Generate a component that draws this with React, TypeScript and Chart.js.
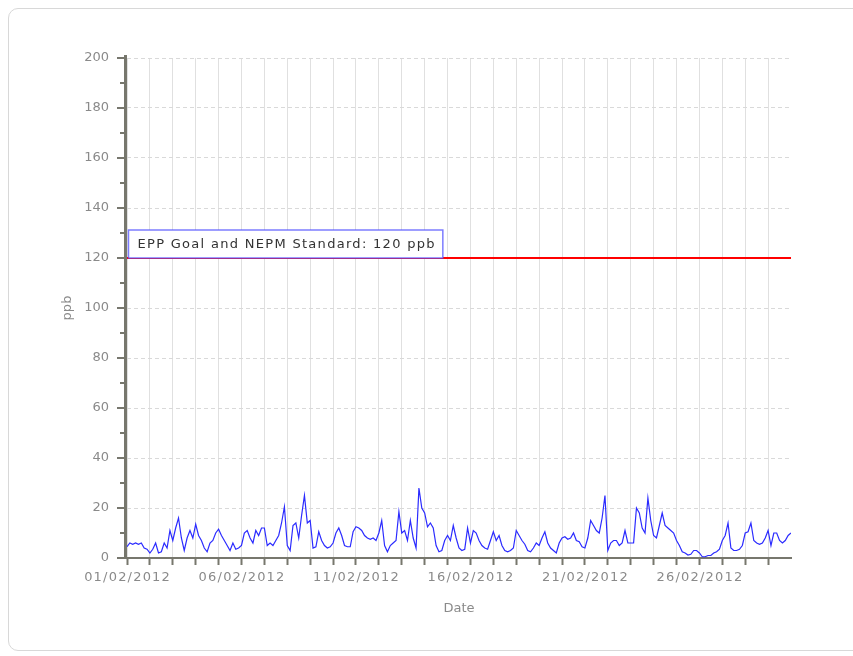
import { useEffect, useRef } from 'react';
import { Chart, registerables } from 'chart.js';

Chart.register(...registerables);

// 3-hourly NO2 readings (ppb), 01/02/2012 00:00 onwards
const STEP_HOURS = 3;
const no2Ppb = [
  4.5, 6, 5.5, 6, 5.5, 6, 4, 3.5, 2, 3.5,
  6, 2, 2.5, 6, 4, 11, 7, 12, 16, 8,
  3, 8, 11, 8, 13.5, 9, 7, 4, 2.5, 6,
  7, 10, 11.5, 9, 7, 5, 3, 6, 3.5, 4,
  5, 10, 11, 8, 6, 11, 9, 12, 12, 5,
  6, 5, 7, 9, 14, 20.5, 5, 3, 13, 14,
  8, 17, 25, 14, 15, 4, 4.5, 10.5, 7, 5,
  4, 4.5, 6, 10, 12, 9, 5, 4.5, 4.5, 10.5,
  12.5, 12, 11, 9, 8, 7.5, 8, 7, 10, 15,
  5, 2.5, 5, 6, 7, 18.5, 10, 11, 7, 15,
  8, 4, 28, 20, 18, 12.5, 14, 12, 5, 2.5,
  3, 7, 9, 7, 13, 8, 4, 3, 3.5, 12,
  6, 11, 10, 7, 5, 4, 3.5, 7, 10.5, 7,
  9, 5, 3, 2.5, 3, 4, 11, 9, 7, 5.5,
  3, 2.5, 4, 6, 5, 8, 10.5, 6, 4, 3,
  2, 6, 8, 8.5, 7.5, 8, 10, 7, 6.5, 4.5,
  4, 8, 15, 13, 11, 10, 16, 25, 3, 6,
  7, 7, 5, 6, 11, 6, 6, 6, 20, 18,
  12, 10, 24, 15, 9, 8, 13, 18, 13, 12,
  11, 10, 7, 5, 2.5, 2, 1.2, 1.5, 3, 3,
  2, 0.5, 0.5, 1, 1, 2, 2.5, 3.5, 7, 9,
  14, 4, 3, 3, 3.5, 5, 10, 10.5, 14, 7,
  6, 5.5, 6, 8, 11, 5, 10, 10, 7, 6,
  7, 9, 10,
];

const dayCount = 29;
const tickLabels = ['01/02/2012', '06/02/2012', '11/02/2012', '16/02/2012', '21/02/2012', '26/02/2012'];
const labelEveryDays = 5;
const yMin = 0;
const yMax = 200;
const yLabelStep = 20;
const yMinorStep = 10;
const standardValue = 120;
const standardLabel = 'EPP Goal and NEPM Standard: 120 ppb';

const FONT = '"DejaVu Sans", sans-serif';
const AXIS = '#77776d';
const LABEL = '#8a8a8a';

function spacedWidth(ctx: CanvasRenderingContext2D, text: string, spacing: number) {
  (ctx as any).letterSpacing = '0px';
  return ctx.measureText(text).width + spacing * text.length;
}

const overlayPlugin = {
  id: 'overlay',
  afterDatasetsDraw(chart: any) {
    const { ctx, chartArea, scales } = chart;
    const y = scales.y.getPixelForValue(standardValue);
    ctx.save();
    ctx.strokeStyle = '#ff0000';
    ctx.lineWidth = 2;
    ctx.beginPath();
    ctx.moveTo(chartArea.left, y);
    ctx.lineTo(chartArea.right, y);
    ctx.stroke();

    ctx.font = `13px ${FONT}`;
    const sp = 1.3;
    const w = spacedWidth(ctx, standardLabel, sp);
    const bx = chartArea.left + 1.5;
    const bh = 28;
    const by = y - bh;
    const bw = w + 16;
    ctx.fillStyle = '#ffffff';
    ctx.fillRect(bx, by, bw, bh);
    ctx.strokeStyle = 'rgba(80,80,255,0.75)';
    ctx.lineWidth = 1.5;
    ctx.strokeRect(bx, by, bw, bh);
    ctx.fillStyle = '#333333';
    ctx.textBaseline = 'middle';
    ctx.textAlign = 'left';
    (ctx as any).letterSpacing = sp + 'px';
    ctx.fillText(standardLabel, bx + 9, by + bh / 2 + 1);
    (ctx as any).letterSpacing = '0px';
    ctx.restore();
  },
  afterDraw(chart: any) {
    const { ctx, chartArea, scales } = chart;
    const ys = scales.y;
    const xs = scales.x;
    ctx.save();
    ctx.fillStyle = AXIS;
    ctx.fillRect(chartArea.left - 3, chartArea.top - 3, 3, chartArea.bottom - chartArea.top + 4);
    ctx.strokeStyle = AXIS;
    ctx.lineWidth = 2;
    for (const t of ys.ticks) {
      const p = Math.round(ys.getPixelForValue(t.value));
      const major = t.value % yLabelStep === 0;
      ctx.beginPath();
      ctx.moveTo(chartArea.left - (major ? 10 : 7), p);
      ctx.lineTo(chartArea.left - 3, p);
      ctx.stroke();
    }

    // x tick labels (drawn with letter spacing)
    ctx.font = `13px ${FONT}`;
    ctx.fillStyle = LABEL;
    ctx.textBaseline = 'top';
    ctx.textAlign = 'left';
    const sp = 1.2;
    tickLabels.forEach((lab, k) => {
      const px = xs.getPixelForValue(k * labelEveryDays * 24);
      const w = spacedWidth(ctx, lab, sp) - sp;
      (ctx as any).letterSpacing = sp + 'px';
      ctx.fillText(lab, px - w / 2, chartArea.bottom + 13);
      (ctx as any).letterSpacing = '0px';
    });
    ctx.restore();
  },
};

export default function App() {
  const ref = useRef<HTMLCanvasElement>(null);

  useEffect(() => {
    if (!ref.current) return;
    const points = no2Ppb.map((v, i) => ({ x: i * STEP_HOURS, y: v }));
    const chart = new Chart(ref.current, {
      type: 'line',
      data: {
        datasets: [
          {
            data: points,
            borderColor: '#2b2bff',
            borderWidth: 1.2,
            pointRadius: 0,
            tension: 0,
            fill: false,
          },
        ],
      },
      options: {
        animation: false,
        responsive: false,
        devicePixelRatio: 1,
        layout: { padding: { top: 58, right: 62, bottom: 0, left: 0 } },
        plugins: { legend: { display: false }, tooltip: { enabled: false } },
        events: [],
        scales: {
          x: {
            type: 'linear',
            min: 0,
            max: dayCount * 24,
            afterBuildTicks: (scale: any) => {
              scale.ticks = scale.ticks.filter((t: any) => t.value < dayCount * 24);
            },
            afterFit: (scale: any) => {
              scale.height = 98;
            },
            ticks: {
              stepSize: 24,
              autoSkip: false,
              maxRotation: 0,
              padding: 5,
              color: 'rgba(0,0,0,0)',
              font: { family: FONT, size: 13 },
              callback: () => '',
            },
            grid: {
              color: '#e0e0e0',
              lineWidth: 1,
              tickColor: AXIS,
              tickLength: 7,
              tickWidth: 2,
            },
            border: { display: true, color: AXIS, width: 2 },
            title: {
              display: true,
              text: 'Date',
              color: LABEL,
              font: { family: FONT, size: 13 },
              padding: { top: 0, bottom: 40 },
            },
          },
          y: {
            type: 'linear',
            min: yMin,
            max: yMax,
            afterFit: (scale: any) => {
              scale.width = 127;
            },
            ticks: {
              stepSize: yMinorStep,
              padding: 18,
              color: LABEL,
              font: { family: FONT, size: 13 },
              callback: (v: any) => (Number(v) % yLabelStep === 0 ? String(v) : ''),
            },
            grid: {
              drawTicks: false,
              color: (c: any) => (c.tick && c.tick.value % yLabelStep === 0 ? '#d9d9d9' : 'rgba(0,0,0,0)'),
              lineWidth: 1,
            },
            border: { display: false, dash: [4, 3] },
            title: {
              display: true,
              text: 'ppb',
              color: LABEL,
              font: { family: FONT, size: 13 },
              padding: { top: 60, bottom: 0 },
            },
          },
        },
      },
      plugins: [overlayPlugin],
    });
    return () => chart.destroy();
  }, []);

  return (
    <div style={{ position: 'absolute', left: 0, top: 0, width: 853, height: 656, overflow: 'hidden' }}>
      <div
        style={{
          position: 'absolute',
          left: 8,
          top: 8,
          width: 900,
          height: 643,
          border: '1px solid #d8d8d8',
          borderRadius: 10,
          boxSizing: 'border-box',
        }}
      />
      <canvas ref={ref} width={853} height={656} style={{ position: 'absolute', left: 0, top: 0, display: 'block' }} />
    </div>
  );
}
